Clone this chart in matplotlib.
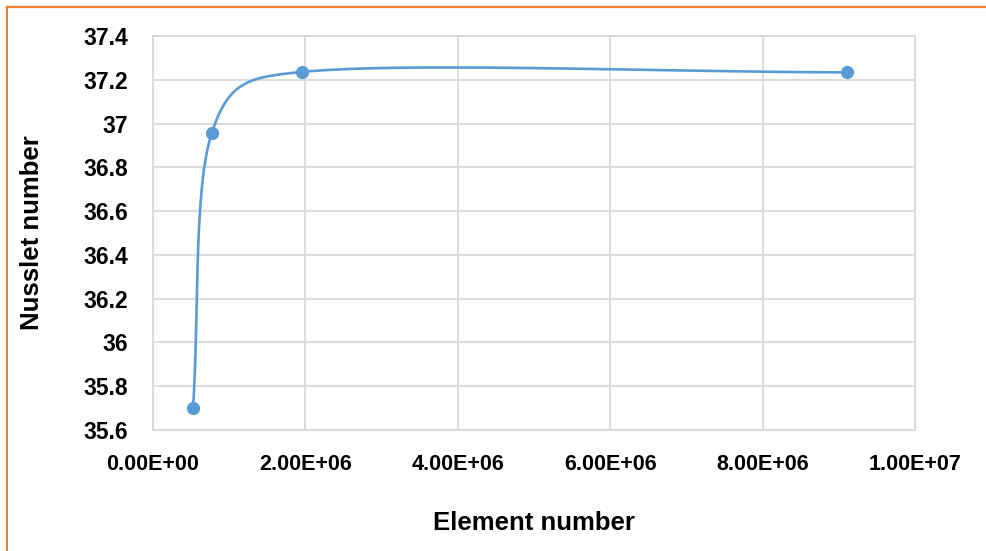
import numpy as np
import matplotlib
matplotlib.use('Agg')
import matplotlib.pyplot as plt
from matplotlib.lines import Line2D

# data
element_number = [5.25e5, 7.7e5, 1.96e6, 9.11e6]
nusselt_number = [35.70, 36.956, 37.236, 37.234]

x_ticks = [0, 2e6, 4e6, 6e6, 8e6, 1e7]
x_ticklabels = ['0.00E+00', '2.00E+06', '4.00E+06', '6.00E+06', '8.00E+06', '1.00E+07']
y_ticks = [35.6, 35.8, 36, 36.2, 36.4, 36.6, 36.8, 37, 37.2, 37.4]
y_ticklabels = ['35.6', '35.8', '36', '36.2', '36.4', '36.6', '36.8', '37', '37.2', '37.4']

plt.rcParams['font.family'] = ['Liberation Sans', 'DejaVu Sans']

blue = '#5B9BD5'
grid = '#D9D9D9'

fig = plt.figure(figsize=(9.86, 5.51), dpi=100)
ax = fig.add_axes([153/986, 1-430/551, (915-153)/986, (430-36)/551])

ax.set_xlim(0, 1e7)
ax.set_ylim(35.6, 37.4)
ax.set_xticks(x_ticks)
ax.set_xticklabels(x_ticklabels)
ax.set_yticks(y_ticks)
ax.set_yticklabels(y_ticklabels)
ax.tick_params(axis='y', length=0, labelsize=16.5, pad=18)
ax.tick_params(axis='x', length=0, labelsize=15.5, pad=17)
for lb in ax.get_xticklabels() + ax.get_yticklabels():
    lb.set_fontweight('bold')
ax.grid(True, color=grid, linewidth=1.3)
ax.set_axisbelow(True)
for sp in ax.spines.values():
    sp.set_color(grid)
    sp.set_linewidth(1.3)

# Excel-like smoothed line: cubic Bezier in display space,
# control arms capped at half the segment length
pts = ax.transData.transform(np.column_stack([element_number, nusselt_number]))
n = len(pts)
curve = [pts[0]]
t = np.linspace(0, 1, 80)[1:, None]
for i in range(n - 1):
    p0 = pts[max(i - 1, 0)]
    p1 = pts[i]
    p2 = pts[i + 1]
    p3 = pts[min(i + 2, n - 1)]
    d12 = np.hypot(*(p2 - p1))
    f1 = 1/3 if i == 0 else 1/6
    f2 = 1/3 if i == n - 2 else 1/6
    a1 = f1 * (p2 - p0)
    a2 = f2 * (p3 - p1)
    if np.hypot(*a1) > d12 / 2:
        a1 = a1 * (d12 / 2) / np.hypot(*a1)
    if np.hypot(*a2) > d12 / 2:
        a2 = a2 * (d12 / 2) / np.hypot(*a2)
    c1 = p1 + a1
    c2 = p2 - a2
    seg = ((1 - t) ** 3) * p1 + 3 * ((1 - t) ** 2) * t * c1 + 3 * (1 - t) * t ** 2 * c2 + t ** 3 * p2
    curve.extend(seg)
curve = ax.transData.inverted().transform(np.array(curve))
ax.plot(curve[:, 0], curve[:, 1], color=blue, linewidth=1.9, zorder=3)
ax.plot(element_number, nusselt_number, 'o', color=blue, markersize=8.5, zorder=4)

ax.set_xlabel('Element number', fontsize=18.5, fontweight='bold', va='center')
ax.set_ylabel('Nusslet number', fontsize=18.5, fontweight='bold', va='center')
ax.xaxis.set_label_coords(0.5, (430-523)/394)
ax.yaxis.set_label_coords((32-153)/762, 0.5)

# orange frame (top and left edges visible)
fig.add_artist(Line2D([7/986, 1], [1-7/551, 1-7/551], color='#ED7D31', linewidth=1.6))
fig.add_artist(Line2D([7/986, 7/986], [0, 1-7/551], color='#ED7D31', linewidth=1.6))

plt.savefig('out.png', dpi=100)
plt.close(fig)
